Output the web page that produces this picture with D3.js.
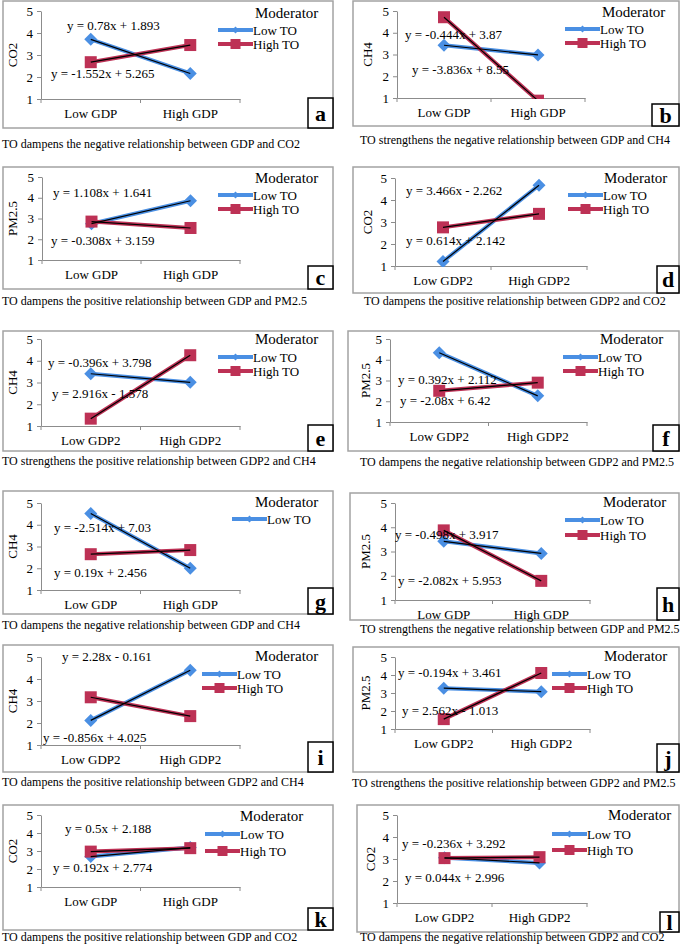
<!DOCTYPE html>
<html>
<head>
<meta charset="utf-8">
<script src="https://cdn.jsdelivr.net/npm/d3@7/dist/d3.min.js"></script>
<style>
  body { margin: 0; background: #fff; }
  svg { display: block; font-family: "Liberation Serif", "Times New Roman", serif; }
</style>
</head>
<body>
<svg id="chart" width="685" height="947"></svg>
<script>
/* data */
const panelTags = ['a','b','c','d','e','f','g','h','i','j','k','l'];
const yTitles = ['CO2','CH4','PM2.5','CO2','CH4','PM2.5','CH4','PM2.5','CH4','PM2.5','CO2','CO2'];
const gdpCats = ['Low GDP','High GDP'];
const gdp2Cats = ['Low GDP2','High GDP2'];
const panelCats = [gdpCats,gdpCats,gdpCats,gdp2Cats,gdp2Cats,gdp2Cats,gdpCats,gdpCats,gdp2Cats,gdp2Cats,gdpCats,gdp2Cats];
const yTicks = [1,2,3,4,5];
const seriesNames = ['Low TO','High TO'];
const lowTO = [[3.713,2.161],[3.426,2.982],[2.749,3.857],[1.204,4.670],[3.402,3.006],[4.340,2.260],
               [4.516,2.002],[3.419,2.921],[2.119,4.399],[3.267,3.073],[2.688,3.188],[3.056,2.820]];
const highTO = [[2.673,3.453],[4.714,0.878],[2.851,2.543],[2.756,3.370],[1.338,4.254],[2.504,2.896],
                [2.646,2.836],[3.871,1.789],[3.169,2.313],[1.549,4.111],[2.966,3.158],[3.040,3.084]];
const equations = [
  ['y = 0.78x + 1.893','y = -1.552x + 5.265'],
  ['y = -0.444x + 3.87','y = -3.836x + 8.55'],
  ['y = 1.108x + 1.641','y = -0.308x + 3.159'],
  ['y = 3.466x - 2.262','y = 0.614x + 2.142'],
  ['y = -0.396x + 3.798','y = 2.916x - 1.578'],
  ['y = 0.392x + 2.112','y = -2.08x + 6.42'],
  ['y = -2.514x + 7.03','y = 0.19x + 2.456'],
  ['y = -0.498x + 3.917','y = -2.082x + 5.953'],
  ['y = 2.28x - 0.161','y = -0.856x + 4.025'],
  ['y = -0.194x + 3.461','y = 2.562x - 1.013'],
  ['y = 0.5x + 2.188','y = 0.192x + 2.774'],
  ['y = -0.236x + 3.292','y = 0.044x + 2.996']
];
const legendKeys = [2,2,2,2,2,2,1,2,2,2,2,2];
const captions = [
  'TO dampens the negative relationship between GDP and CO2',
  'TO strengthens the negative relationship between GDP and CH4',
  'TO dampens the positive relationship between GDP and PM2.5',
  'TO dampens the positive relationship between GDP2 and CO2',
  'TO strengthens the positive relationship between GDP2 and CH4',
  'TO dampens the negative relationship between GDP2 and PM2.5',
  'TO dampens the negative relationship between GDP and CH4',
  'TO strengthens the negative relationship between GDP and PM2.5',
  'TO dampens the positive relationship between GDP2 and CH4',
  'TO strengthens the positive relationship between GDP2 and PM2.5',
  'TO dampens the positive relationship between GDP and CO2',
  'TO dampens the negative relationship between GDP2 and CO2'
];

/* layout of each panel on the page */
const frames = [
  {box:[3,1,330,127],ax:41,ax2:240,y5:11,y1:99,tag:[308,98,25,30],ytx:12,cap:[2,148],eq:[[67,30],[51,78]],leg:[255,18,218,30,14]},
  {box:[353,1,326,125],ax:397,ax2:585,y5:11,y1:98,tag:[652,104,27,22],ytx:367,cap:[360,144],eq:[[405,39],[412,74]],leg:[602,17,565,29,14]},
  {box:[3,167,330,122],ax:42,ax2:240,y5:177,y1:260,tag:[308,266,25,23],ytx:12,cap:[2,305],eq:[[53,197],[51,245]],leg:[255,183,218,195,14]},
  {box:[353,167,326,126],ax:395,ax2:587,y5:178,y1:266,tag:[657,266,22,27],ytx:367,cap:[364,305],eq:[[406,195],[406,245]],leg:[604,183,568,195,14]},
  {box:[3,331,330,120],ax:41,ax2:240,y5:339,y1:426,tag:[308,425,25,26],ytx:12,cap:[2,465],eq:[[48,367],[52,398]],leg:[255,344,218,357,14]},
  {box:[348,331,331,120],ax:390,ax2:587,y5:339,y1:422,tag:[653,425,26,26],ytx:365,cap:[360,466],eq:[[398,384],[400,405]],leg:[600,344,563,357,14]},
  {box:[3,491,330,123],ax:41,ax2:240,y5:503,y1:590,tag:[308,588,25,26],ytx:12,cap:[2,629],eq:[[54,532],[54,577]],leg:[255,507,232,519,14]},
  {box:[350,493,329,127],ax:395,ax2:590,y5:503,y1:600,tag:[657,588,22,32],ytx:365,cap:[360,633],eq:[[395,539],[398,585]],leg:[603,507,565,520,15]},
  {box:[3,645,330,127],ax:41,ax2:240,y5:657,y1:745,tag:[308,742,25,30],ytx:12,cap:[2,786],eq:[[62,661],[43,742]],leg:[255,661,202,674,14]},
  {box:[353,647,326,125],ax:395,ax2:590,y5:657,y1:729,tag:[657,744,22,28],ytx:365,cap:[352,787],eq:[[398,677],[402,715]],leg:[604,661,552,674,14]},
  {box:[3,805,330,125],ax:41,ax2:240,y5:815,y1:887,tag:[308,908,25,22],ytx:12,cap:[2,941],eq:[[65,833],[53,872]],leg:[240,821,205,834,17]},
  {box:[357,805,322,127],ax:397,ax2:587,y5:815,y1:903,tag:[660,912,19,20],ytx:370,cap:[360,941],eq:[[402,848],[405,882]],leg:[608,820,552,834,16]}
];

const blue = '#4a8fe3', red = '#bd3155', axisGrey = '#8c8c8c';
const svg = d3.select('#chart');
const defs = svg.append('defs');

function marker(g, k, cx, cy, s) {
  if (k === 0) {
    g.append('path').attr('d', 'M'+cx+','+(cy-s)+'L'+(cx+s)+','+cy+'L'+cx+','+(cy+s)+'L'+(cx-s)+','+cy+'Z').attr('fill', blue);
  } else {
    g.append('rect').attr('x', cx-s).attr('y', cy-s).attr('width', 2*s).attr('height', 2*s).attr('fill', red);
  }
}

panelTags.forEach(function(tag, i) {
  const f = frames[i];
  const g = svg.append('g');
  const x = d3.scaleBand().domain(panelCats[i]).range([f.ax, f.ax2]).padding(0);
  const y = d3.scaleLinear().domain([1,5]).range([f.y1, f.y5]);
  const cx = function(c) { return x(c) + x.bandwidth()/2; };

  // outer frame
  g.append('rect').attr('x', f.box[0]).attr('y', f.box[1]).attr('width', f.box[2]).attr('height', f.box[3])
    .attr('fill', 'none').attr('stroke', '#a3a3a3').attr('stroke-width', 1.5);

  // y axis
  const ya = g.append('g').attr('transform', 'translate(' + f.ax + ',0)')
    .call(d3.axisLeft(y).tickValues(yTicks).tickFormat(d3.format('d')).tickSize(4).tickSizeOuter(0).tickPadding(4));
  ya.select('.domain').attr('stroke', axisGrey);
  ya.selectAll('.tick line').attr('stroke', axisGrey);
  ya.selectAll('text').attr('font-size', 13).attr('font-family', 'Liberation Serif').attr('fill', '#000');

  // x axis
  const xa = g.append('g').attr('transform', 'translate(0,' + f.y1 + ')')
    .call(d3.axisBottom(x).tickSize(0).tickPadding(10));
  xa.select('.domain').attr('stroke', axisGrey);
  xa.selectAll('text').attr('font-size', 13).attr('font-family', 'Liberation Serif').attr('fill', '#000');
  const edges = x.domain().map(function(c) { return x(c); }).concat([f.ax2]);
  g.selectAll(null).data(edges).enter().append('line')
    .attr('x1', function(d) { return d; }).attr('x2', function(d) { return d; })
    .attr('y1', f.y1).attr('y2', f.y1 + 4).attr('stroke', axisGrey);

  // y title
  g.append('text').attr('transform', 'translate(' + f.ytx + ',' + ((f.y1 + f.y5)/2) + ') rotate(-90)')
    .attr('text-anchor', 'middle').attr('dy', '0.35em').attr('font-size', 13).text(yTitles[i]);

  // plot clip
  defs.append('clipPath').attr('id', 'clip' + tag).append('rect')
    .attr('x', f.ax).attr('y', f.box[1]).attr('width', f.ax2 - f.ax).attr('height', f.y1 + 1 - f.box[1]);
  const plot = g.append('g').attr('clip-path', 'url(#clip' + tag + ')');
  const line = d3.line().x(function(d, j) { return cx(panelCats[i][j]); }).y(function(d) { return y(d); });

  [lowTO[i], highTO[i]].forEach(function(vals, k) {
    plot.append('path').datum(vals).attr('d', line).attr('fill', 'none')
      .attr('stroke', k ? red : blue).attr('stroke-width', 4);
    vals.forEach(function(v, j) { marker(plot, k, cx(panelCats[i][j]), y(v), k ? 6 : 6.5); });
  });
  // linear trend lines
  [lowTO[i], highTO[i]].forEach(function(vals) {
    plot.append('path').datum(vals).attr('d', line).attr('fill', 'none').attr('stroke', '#000').attr('stroke-width', 1.2);
  });

  // equations
  equations[i].forEach(function(t, k) {
    g.append('text').attr('x', f.eq[k][0]).attr('y', f.eq[k][1]).attr('font-size', 13).text(t);
  });

  // legend
  const L = f.leg;
  g.append('text').attr('x', L[0]).attr('y', L[1]).attr('font-size', 15).text('Moderator');
  seriesNames.slice(0, legendKeys[i]).forEach(function(name, k) {
    const ly = L[3] + k * L[4];
    g.append('line').attr('x1', L[2]).attr('x2', L[2] + 35).attr('y1', ly).attr('y2', ly)
      .attr('stroke', k ? red : blue).attr('stroke-width', 4);
    marker(g, k, L[2] + 17.5, ly, k ? 5 : 3.5);
    g.append('text').attr('x', L[2] + 35).attr('y', ly + 4.5).attr('font-size', 13).text(name);
  });

  // panel tag
  g.append('rect').attr('x', f.tag[0]).attr('y', f.tag[1]).attr('width', f.tag[2]).attr('height', f.tag[3])
    .attr('fill', '#fff').attr('stroke', '#000').attr('stroke-width', 1.5);
  g.append('text').attr('x', f.tag[0] + f.tag[2]/2).attr('y', f.tag[1] + f.tag[3]/2).attr('dy', '0.35em')
    .attr('text-anchor', 'middle').attr('font-size', 22).attr('font-weight', 'bold').text(tag);

  // caption
  g.append('text').attr('x', f.cap[0]).attr('y', f.cap[1]).attr('font-size', 12).text(captions[i]);
});
</script>
</body>
</html>
